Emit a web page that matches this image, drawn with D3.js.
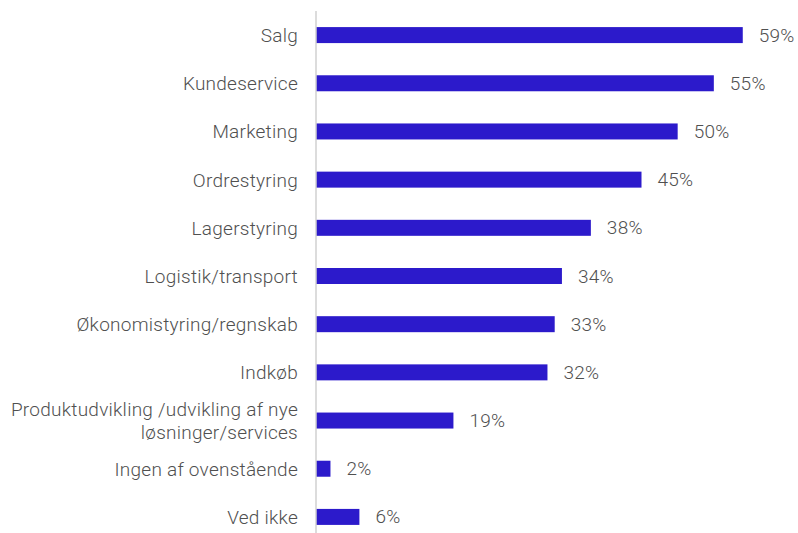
<!DOCTYPE html>
<html>
<head>
<meta charset="utf-8">
<script src="https://cdn.jsdelivr.net/npm/d3@7"></script>
<style>
  html, body { margin: 0; padding: 0; background: #fff; }
  svg { display: block; }
  text { font-family: Roboto, "Noto Sans", sans-serif; font-weight: 300; letter-spacing: 0.25px; }
</style>
</head>
<body>
<svg id="chart" width="798" height="533"></svg>
<script>
// Funktionsområder og andel af svar (%)
const categories = [
  "Salg",
  "Kundeservice",
  "Marketing",
  "Ordrestyring",
  "Lagerstyring",
  "Logistik/transport",
  "Økonomistyring/regnskab",
  "Indkøb",
  "Produktudvikling /udvikling af nye\nløsninger/services",
  "Ingen af ovenstående",
  "Ved ikke"
];
const values = [59, 55, 50, 45, 38, 34, 33, 32, 19, 2, 6];

const svg = d3.select("#chart");
const W = 798, H = 533;
const left = 316;
const fontSize = 19;
const textColor = "#505050";

const x = d3.scaleLinear().domain([0, 60]).range([left, left + 434]);
const y = d3.scaleBand()
  .domain(categories)
  .range([3, 549])
  .paddingInner(0.668)
  .paddingOuter(0.5);

const data = categories.map((c, i) => ({ cat: c, val: values[i] }));

// Bars
svg.append("g")
  .selectAll("rect")
  .data(data)
  .join("rect")
  .attr("x", x(0))
  .attr("y", d => y(d.cat))
  .attr("width", d => x(d.val) - x(0))
  .attr("height", y.bandwidth())
  .attr("fill", "#2C1ACB");

// Vertical axis line with category labels
const yAxis = d3.axisLeft(y).tickSize(0).tickPadding(18);
const gAxis = svg.append("g")
  .attr("transform", `translate(${x(0)},0)`)
  .call(yAxis);
gAxis.select(".domain")
  .attr("stroke", "#d0d0d0")
  .attr("stroke-width", 1.5)
  .attr("d", `M0,11V${H}`);

const lineH = 22.5;
gAxis.selectAll(".tick")
  .each(function(d) {
    const lines = d.split("\n");
    const t = d3.select(this).select("text")
      .attr("x", -18)
      .attr("dy", null)
      .attr("fill", textColor)
      .attr("font-size", fontSize)
      .attr("text-anchor", "end")
      .attr("dominant-baseline", "central");
    t.text(null);
    const off = -(lines.length - 1) * lineH / 2;
    lines.forEach((ln, i) => {
      t.append("tspan")
        .attr("x", -18)
        .attr("y", off + i * lineH)
        .text(ln);
    });
  });

// Value labels
svg.append("g")
  .selectAll("text")
  .data(data)
  .join("text")
  .attr("x", d => x(d.val) + 16)
  .attr("y", d => y(d.cat) + y.bandwidth() / 2)
  .attr("dominant-baseline", "central")
  .attr("fill", textColor)
  .attr("font-size", fontSize)
  .text(d => d.val + "%");
</script>
</body>
</html>
